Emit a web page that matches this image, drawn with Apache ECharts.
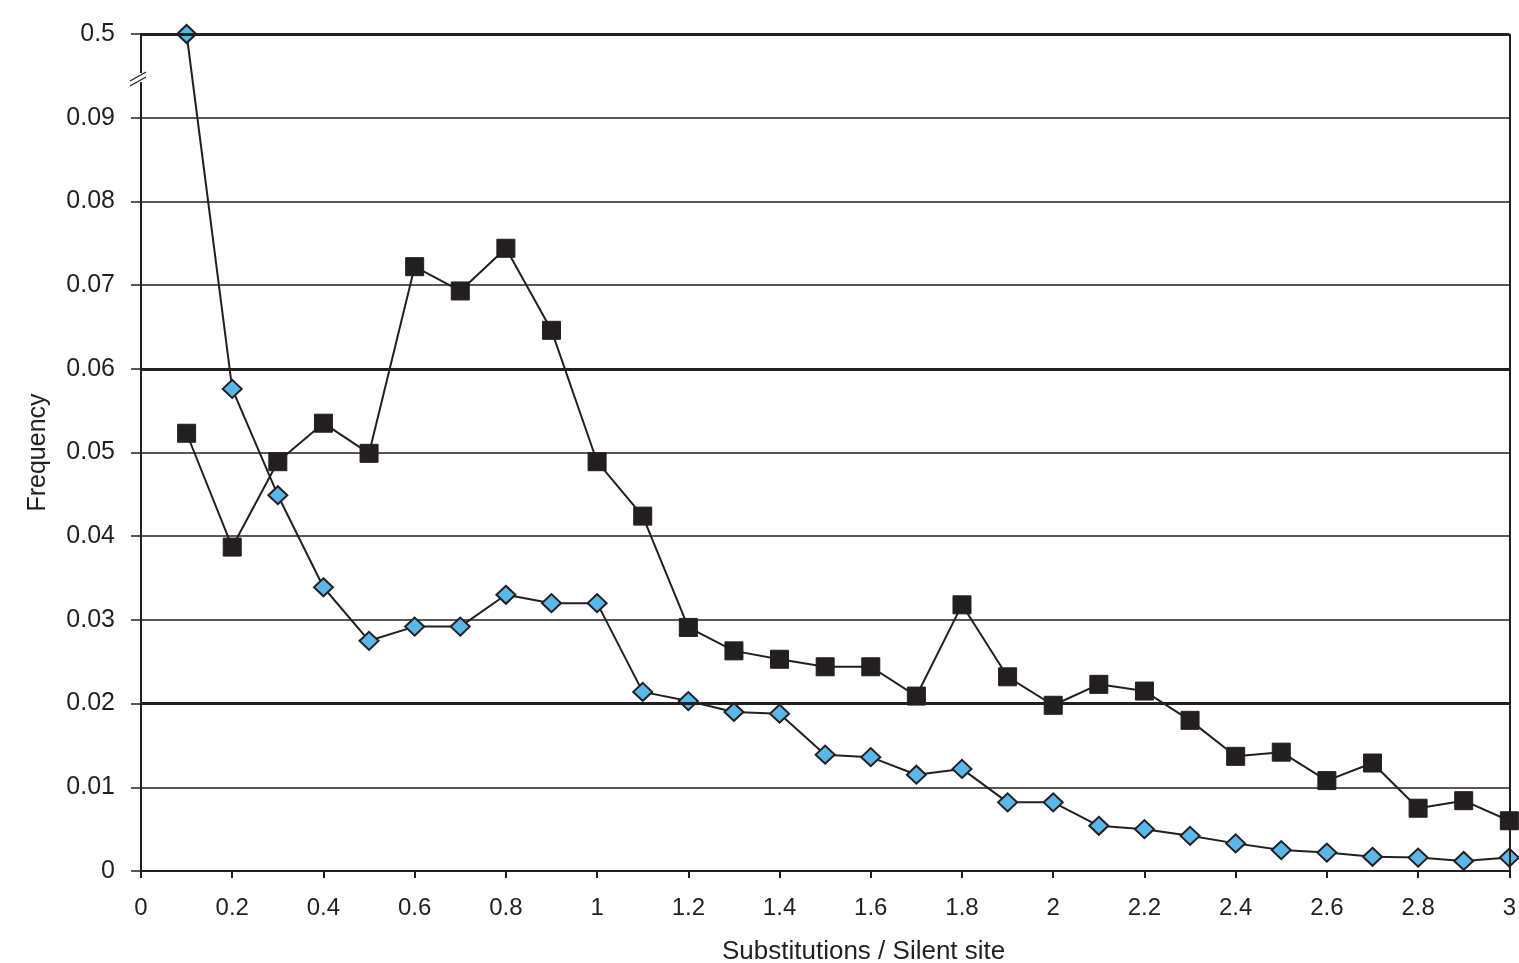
<!DOCTYPE html>
<html>
<head>
<meta charset="utf-8">
<script src="https://cdn.jsdelivr.net/npm/echarts@6/dist/echarts.min.js"></script>
<style>
  html, body { margin: 0; padding: 0; background: #fff; }
  #chart { width: 1519px; height: 963px; }
</style>
</head>
<body>
<div id="chart"></div>
<script>
// substitutions per silent site (x values)
var xValues = [0.1, 0.2, 0.3, 0.4, 0.5, 0.6, 0.7, 0.8, 0.9, 1.0,
               1.1, 1.2, 1.3, 1.4, 1.5, 1.6, 1.7, 1.8, 1.9, 2.0,
               2.1, 2.2, 2.3, 2.4, 2.5, 2.6, 2.7, 2.8, 2.9, 3.0];

// black squares
var squareFreq = [0.0523, 0.0387, 0.0489, 0.0535, 0.0499, 0.0722, 0.0693, 0.0744, 0.0646, 0.0489,
                  0.0424, 0.0291, 0.0263, 0.0253, 0.0244, 0.0244, 0.0209, 0.0318, 0.0232, 0.0198,
                  0.0223, 0.0215, 0.0180, 0.0137, 0.0142, 0.0108, 0.0129, 0.0075, 0.0084, 0.0060];

// blue diamonds (first value sits above the axis break)
var diamondFreq = [0.5, 0.0576, 0.0449, 0.0339, 0.0275, 0.0292, 0.0292, 0.0330, 0.0320, 0.0320,
                   0.0214, 0.0203, 0.0190, 0.0188, 0.0139, 0.0136, 0.0115, 0.0122, 0.0082, 0.0082,
                   0.0054, 0.0050, 0.0042, 0.0033, 0.0025, 0.0022, 0.0017, 0.0016, 0.0012, 0.0016];

// y axis is broken: everything above breakAt is drawn at the top tick, labelled with its real value
var breakAt = 0.1;
var breakLabel = '0.5';
var boldLines = [0.02, 0.06, 0.1];

var ink = '#231f20';
var font = 'Liberation Sans, Arial, sans-serif';

function pairs(ys) {
    return xValues.map(function (x, i) {
        return [x, Math.min(ys[i], breakAt)];
    });
}

var chart = echarts.init(document.getElementById('chart'));

var option = {
    animation: false,
    backgroundColor: '#fff',
    grid: { left: 141, right: 7, top: 34, bottom: 92 },
    xAxis: {
        type: 'value',
        min: 0, max: 3, interval: 0.2,
        axisLine: { show: true, onZero: false, lineStyle: { color: ink, width: 2 } },
        axisTick: { show: true, length: 7, lineStyle: { color: ink, width: 2 } },
        axisLabel: { color: ink, fontSize: 24, fontFamily: font, margin: 25 },
        splitLine: { show: false }
    },
    yAxis: {
        type: 'value',
        min: 0, max: breakAt, interval: 0.01,
        axisLine: { show: true, lineStyle: { color: ink, width: 2 } },
        axisTick: { show: true, length: 10, lineStyle: { color: ink, width: 1.5 } },
        axisLabel: {
            color: ink, fontSize: 25, fontFamily: font, margin: 26,
            formatter: function (v) {
                if (Math.abs(v - breakAt) < 1e-9) return breakLabel;
                return +v.toFixed(2) + '';
            }
        },
        splitLine: { show: true, lineStyle: { color: ink, width: 1.6 } },
        name: 'Frequency',
        nameLocation: 'middle',
        nameGap: 90,
        nameTextStyle: { color: ink, fontSize: 25, fontFamily: font }
    },
    series: [
        {
            name: 'frame',
            type: 'line',
            data: [],
            silent: true,
            markLine: {
                silent: true,
                symbol: 'none',
                label: { show: false },
                lineStyle: { color: ink, width: 3, type: 'solid' },
                data: boldLines.map(function (v) { return { yAxis: v }; })
                    .concat([{ xAxis: 3, lineStyle: { width: 2 } }])
            }
        },
        {
            name: 'squares',
            type: 'line',
            data: pairs(squareFreq),
            symbol: 'rect',
            symbolSize: 18,
            lineStyle: { color: ink, width: 2 },
            itemStyle: { color: ink, borderColor: ink, borderWidth: 1 },
            z: 3
        },
        {
            name: 'diamonds',
            type: 'line',
            data: pairs(diamondFreq),
            symbol: 'diamond',
            symbolSize: [19, 18],
            lineStyle: { color: ink, width: 2 },
            itemStyle: { color: '#5ab7ea', borderColor: ink, borderWidth: 2 },
            z: 4
        }
    ]
};

chart.setOption(option);

// axis-break mark and x-axis title
var breakY = chart.convertToPixel({ yAxisIndex: 0 }, 0.0945);
var axisX = chart.convertToPixel({ xAxisIndex: 0 }, 0);
chart.setOption({
    graphic: [
        { type: 'rect', shape: { x: axisX - 3, y: breakY - 7, width: 6, height: 9 }, style: { fill: '#fff' }, z: 50 },
        { type: 'line', shape: { x1: axisX - 11, y1: breakY + 1, x2: axisX + 5, y2: breakY - 8 }, style: { stroke: ink, lineWidth: 1.3 }, z: 51 },
        { type: 'line', shape: { x1: axisX - 11, y1: breakY + 6, x2: axisX + 5, y2: breakY - 3 }, style: { stroke: ink, lineWidth: 1.3 }, z: 51 },
        {
            type: 'text', left: 722, top: 939,
            style: { text: 'Substitutions / Silent site', fill: ink, font: '26px ' + font }
        }
    ]
});
</script>
</body>
</html>
